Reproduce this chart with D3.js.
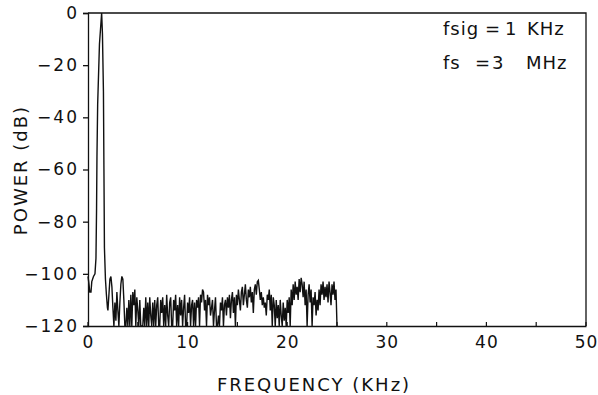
<!DOCTYPE html>
<html><head><meta charset="utf-8">
<script src="https://cdn.jsdelivr.net/npm/d3@7"></script>
<style>
body{margin:0;background:#fff}
text{font-family:"DejaVu Sans","Liberation Sans",Arial,sans-serif;fill:#111}
</style>
</head><body>
<svg id="chart" width="598" height="395"></svg>
<script>
// ---------- data ----------
const xTickValues = [0, 10, 20, 30, 40, 50];
const xMinorTickValues = [5, 15, 25, 35, 45];
const yTickValues = [0, -20, -40, -60, -80, -100, -120];

// signal peak region (KHz, dB)
const peakFreq = [0, 0.1, 0.18, 0.3, 0.38, 0.55, 0.7, 0.8, 0.86, 0.9, 0.97, 1.15, 1.37, 1.45, 1.55, 1.6, 1.65, 1.75, 1.85, 1.95, 2.0];
const peakDb   = [-101, -104, -107, -107, -103, -101, -100, -94, -75, -55, -35, -12, 0, -8, -30, -60, -90, -102, -108, -113, -114];

// noise floor, FFT bins from 2.1 KHz at 0.1 KHz spacing
const noiseStartKHz = 2.1;
const noiseBinKHz = 0.1;
const noiseDb = [
  -108, -102, -101, -105, -113, -120, -111, -118, -107, -114,
  -120, -111, -104, -101, -102, -110, -120, -120, -113, -120,
  -110, -120, -108, -120, -107, -112, -106, -120, -109, -114,
  -120, -110, -120, -120, -120, -113, -120, -109, -120, -111,
  -120, -109, -116, -120, -111, -120, -110, -120, -112, -109,
  -120, -120, -110, -115, -109, -120, -112, -120, -108, -116,
  -120, -111, -109, -120, -120, -110, -114, -108, -120, -112,
  -120, -109, -116, -110, -120, -113, -108, -120, -120, -111,
  -115, -109, -120, -112, -110, -120, -111, -120, -110, -113,
  -109, -120, -108, -111, -106, -107, -114, -110, -120, -108,
  -112, -109, -116, -113, -110, -120, -114, -109, -120, -120,
  -116, -120, -111, -114, -109, -120, -112, -110, -116, -109,
  -113, -108, -117, -110, -107, -115, -109, -120, -108, -112,
  -106, -110, -114, -107, -105, -112, -108, -104, -110, -113,
  -106, -109, -105, -111, -107, -115, -106, -104, -108, -103,
  -102.5, -106, -110, -107, -112, -109, -113, -111, -116, -108,
  -110, -106, -114, -108, -120, -109, -112, -120, -110, -117,
  -112, -120, -110, -116, -120, -111, -118, -113, -120, -110,
  -115, -109, -120, -106, -112, -104, -110, -103, -108, -105,
  -110, -102, -107, -101.5, -104, -109, -103, -112, -106, -120,
  -108, -104, -111, -106, -120, -109, -112, -107, -116, -110,
  -114, -106, -112, -104, -108, -103, -110, -105, -109, -104,
  -111, -103, -107, -112, -104, -108, -103, -110, -106, -120
];

const annotLine1 = ["fsig", "=", "1", "KHz"];
const annotLine2 = ["fs", "=", "3", "MHz"];
const xTitle = "FREQUENCY (KHz)";
const yTitle = "POWER (dB)";

// ---------- build series ----------
const series = peakFreq.map((f, i) => ({f: f, db: peakDb[i]}));
noiseDb.forEach((d, i) => series.push({f: noiseStartKHz + i * noiseBinKHz, db: d}));

// ---------- layout ----------
const svg = d3.select("#chart");
const L = 88, R = 586, T = 13, B = 326;
const x = d3.scaleLinear().domain([0, 50]).range([L, R]);
const y = d3.scaleLinear().domain([-120, 0]).range([B, T]);
const ink = "#111";

// frame (top and right)
svg.append("path")
  .attr("d", `M${L},${T}H${R}V${B}`)
  .attr("fill", "none").attr("stroke", ink).attr("stroke-width", 1.3);

// x axis
const xAxis = svg.append("g").attr("transform", `translate(0,${B})`)
  .call(d3.axisBottom(x).tickValues(xTickValues).tickSize(0).tickPadding(10).tickFormat(d3.format("d")));
xAxis.select(".domain").attr("stroke", ink).attr("stroke-width", 1.3);
xAxis.selectAll("text").attr("font-size", 17).attr("letter-spacing", 1).attr("dy", "0.72em")
  .attr("font-family", "DejaVu Sans");
// inward small ticks every 5 KHz
svg.append("g").selectAll("line").data(xTickValues.concat(xMinorTickValues)).join("line")
  .attr("x1", d => x(d)).attr("x2", d => x(d))
  .attr("y1", B).attr("y2", B - 4)
  .attr("stroke", ink).attr("stroke-width", 1.2);

// y axis
const yAxis = svg.append("g").attr("transform", `translate(${L},0)`)
  .call(d3.axisLeft(y).tickValues(yTickValues).tickSize(5).tickPadding(4)
    .tickFormat(d => d === 0 ? "0" : "\u2212" + Math.abs(d)));
yAxis.select(".domain").attr("stroke", ink).attr("stroke-width", 1.3);
yAxis.selectAll(".tick line").attr("stroke", ink).attr("stroke-width", 1.3);
yAxis.selectAll("text").attr("font-size", 17).attr("letter-spacing", 2)
  .attr("font-family", "DejaVu Sans");

// spectrum trace
const line = d3.line().x(d => x(d.f)).y(d => y(d.db));
svg.append("path").datum(series)
  .attr("d", line)
  .attr("fill", "none").attr("stroke", ink).attr("stroke-width", 1.4)
  .attr("stroke-linejoin", "miter");

// axis titles
svg.append("text").attr("x", 314).attr("y", 385).attr("dy", "0.36em")
  .attr("text-anchor", "middle").attr("font-size", 18).attr("letter-spacing", 2)
  .text(xTitle);
svg.append("text").attr("transform", "translate(21,170) rotate(-90)").attr("dy", "0.36em")
  .attr("text-anchor", "middle").attr("font-size", 18).attr("letter-spacing", 2)
  .text(yTitle);

// annotation
const a1x = [443, 485, 505, 527];
const a2x = [443, 475, 492, 526];
const t1 = svg.append("text").attr("y", 29).attr("dy", "0.36em").attr("font-size", 18).attr("letter-spacing", 1);
annotLine1.forEach((s, i) => t1.append("tspan").attr("x", a1x[i]).text(s));
const t2 = svg.append("text").attr("y", 63).attr("dy", "0.36em").attr("font-size", 18).attr("letter-spacing", 1);
annotLine2.forEach((s, i) => t2.append("tspan").attr("x", a2x[i]).text(s));
</script>
</body></html>
